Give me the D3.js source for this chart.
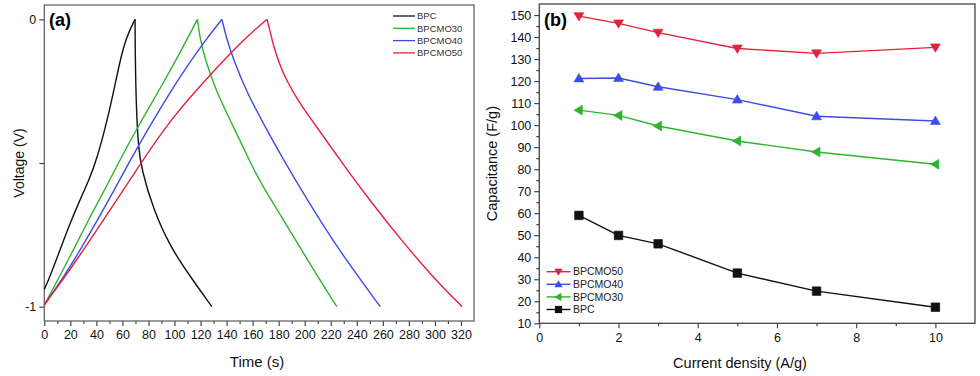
<!DOCTYPE html>
<html>
<head>
<meta charset="utf-8">
<script src="https://cdn.jsdelivr.net/npm/d3@7"></script>
<style>
  body { margin: 0; background: #fff; }
  svg { display: block; font-family: "Liberation Sans", Arial, sans-serif; }
</style>
</head>
<body>
<svg id="chart"></svg>
<script>
// ---- panel (a): galvanostatic charge / discharge, [time s, voltage V]
const bpcCharge = [[0, -0.94], [4.4, -0.895], [12.1, -0.802], [19.9, -0.709], [27.4, -0.628], [33.8, -0.565], [40.3, -0.49], [50.5, -0.314], [58.2, -0.14], [63.3, -0.058], [69.7, 0]];
const bpcDischarge = [[69.7, 0], [69.8, -0.1], [70.2, -0.22], [70.9, -0.33], [72.2, -0.44], [74.5, -0.52], [83.8, -0.663], [96.6, -0.791], [112, -0.895], [128.7, -1]];
const mo30Charge = [[0, -0.994], [17.2, -0.849], [32.6, -0.709], [50.5, -0.558], [58.2, -0.488], [73.6, -0.36], [91.5, -0.221], [104.3, -0.116], [117.6, 0]];
const mo30Discharge = [[117.6, 0], [119.7, -0.07], [123.5, -0.14], [132.5, -0.256], [142.7, -0.349], [159.4, -0.51], [165.8, -0.565], [181.2, -0.68], [191.4, -0.756], [211.9, -0.91], [224.7, -1]];
const mo40Charge = [[0, -0.994], [22.3, -0.849], [58.2, -0.558], [63.3, -0.512], [83.8, -0.349], [104.3, -0.198], [122.2, -0.081], [136.4, 0]];
const mo40Discharge = [[136.4, 0], [140.2, -0.07], [145.3, -0.14], [155.6, -0.256], [170.9, -0.384], [181.2, -0.47], [204.2, -0.645], [211.9, -0.7], [229.8, -0.826], [258, -1]];
const mo50Charge = [[0, -0.994], [23.6, -0.849], [65.9, -0.558], [71, -0.523], [96.6, -0.349], [127.4, -0.192], [153, -0.07], [171, 0]];
const mo50Discharge = [[171, 0], [173.5, -0.042], [176, -0.093], [181.2, -0.163], [186.3, -0.215], [194, -0.275], [201.7, -0.328], [217.1, -0.425], [232.4, -0.523], [250.3, -0.632], [276, -0.779], [299, -0.9], [320.8, -1]];

const curveNames = ["BPC", "BPCMO30", "BPCMO40", "BPCMO50"];
const curveColors = ["#111111", "#2cb52c", "#3a4ee6", "#e3213c"];
const curveSegments = [
  [bpcCharge, bpcDischarge],
  [mo30Charge, mo30Discharge],
  [mo40Charge, mo40Discharge],
  [mo50Charge, mo50Discharge]
];

// ---- panel (b): capacitance vs current density
const currentDensity = [1, 2, 3, 5, 7, 10];
const capBPC = [59.0, 49.9, 46.1, 32.8, 24.6, 17.3];
const capMO30 = [106.8, 104.4, 99.6, 92.8, 87.8, 82.2];
const capMO40 = [121.2, 121.4, 117.4, 111.6, 104.0, 101.9];
const capMO50 = [149.5, 146.2, 142.0, 134.8, 132.6, 135.3];

const capSeries = [
  { name: "BPCMO50", values: capMO50, color: "#e3213c", symbol: "triDown" },
  { name: "BPCMO40", values: capMO40, color: "#3a4ee6", symbol: "triUp" },
  { name: "BPCMO30", values: capMO30, color: "#2cb52c", symbol: "triLeft" },
  { name: "BPC", values: capBPC, color: "#111111", symbol: "square" }
];

const svg = d3.select("#chart").attr("width", 980).attr("height", 376);
const axisColor = "#444";

const styleAxis = (g) => {
  g.select(".domain").remove();
  g.selectAll("line").attr("stroke", axisColor).attr("stroke-width", 1.2);
  g.selectAll("text").attr("fill", "#111").attr("font-size", 12.5);
};

// ================= panel (a) =================
const xA = d3.scaleLinear().domain([0, 330]).range([44.3, 474]);
const yA = d3.scaleLinear().domain([-1.05, 0.05]).range([321, 5]);

const gA = svg.append("g");

gA.append("g")
  .attr("transform", `translate(0, ${yA(-1.05)})`)
  .call(d3.axisBottom(xA).tickValues(d3.range(10, 330, 20)).tickSize(3).tickFormat(""))
  .call(styleAxis);
gA.append("g")
  .attr("transform", `translate(0, ${yA(-1.05)})`)
  .call(d3.axisBottom(xA).tickValues(d3.range(0, 321, 20)).tickSize(5).tickPadding(4))
  .call(styleAxis);
gA.append("g")
  .attr("transform", `translate(${xA(0)}, 0)`)
  .call(d3.axisLeft(yA).tickValues([0, -0.5, -1]).tickSize(5).tickPadding(3)
    .tickFormat(d => d === 0 ? "0" : d === -1 ? "-1" : ""))
  .call(styleAxis);

gA.append("rect")
  .attr("x", xA(0)).attr("y", yA(0.05))
  .attr("width", xA(330) - xA(0)).attr("height", yA(-1.05) - yA(0.05))
  .attr("fill", "none").attr("stroke", "#666").attr("stroke-width", 1.3);

// smooth through the traced points, charge and discharge drawn apart to keep the sharp peaks
const lineA = d3.line().x(d => xA(d[0])).y(d => yA(d[1])).curve(d3.curveBasis);

curveSegments.forEach((segs, i) => {
  segs.forEach(seg => {
    gA.append("path")
      .attr("d", lineA(seg))
      .attr("fill", "none")
      .attr("stroke", curveColors[i])
      .attr("stroke-width", 1.4);
  });
});

// legend (a)
curveNames.forEach((name, i) => {
  const ly = 16 + i * 12.3;
  gA.append("line")
    .attr("x1", 393).attr("x2", 415).attr("y1", ly).attr("y2", ly)
    .attr("stroke", curveColors[i]).attr("stroke-width", 1.3);
  gA.append("text")
    .attr("x", 417).attr("y", ly).attr("dy", "0.35em")
    .attr("font-size", 9.5).attr("fill", "#333")
    .text(name);
});

gA.append("text")
  .attr("x", 49).attr("y", 26)
  .attr("font-size", 18).attr("font-weight", "bold")
  .text("(a)");

gA.append("text")
  .attr("transform", `translate(19, ${yA(-0.5)}) rotate(-90)`)
  .attr("text-anchor", "middle").attr("dy", "0.35em")
  .attr("font-size", 14).attr("fill", "#111")
  .text("Voltage (V)");

gA.append("text")
  .attr("x", 257).attr("y", 362)
  .attr("text-anchor", "middle").attr("dy", "0.35em")
  .attr("font-size", 15).attr("fill", "#111")
  .text("Time (s)");

// ================= panel (b) =================
const xB = d3.scaleLinear().domain([0, 11]).range([539.3, 975]);
const yB = d3.scaleLinear().domain([10, 155]).range([323.3, 4]);

const gB = svg.append("g");

gB.append("g")
  .attr("transform", `translate(0, ${yB(10)})`)
  .call(d3.axisBottom(xB).tickValues([1, 3, 5, 7, 9]).tickSize(3).tickFormat(""))
  .call(styleAxis);
gB.append("g")
  .attr("transform", `translate(0, ${yB(10)})`)
  .call(d3.axisBottom(xB).tickValues([0, 2, 4, 6, 8, 10]).tickSize(5).tickPadding(5))
  .call(styleAxis);
gB.append("g")
  .attr("transform", `translate(${xB(0)}, 0)`)
  .call(d3.axisLeft(yB).tickValues(d3.range(15, 155, 10)).tickSize(3).tickFormat(""))
  .call(styleAxis);
gB.append("g")
  .attr("transform", `translate(${xB(0)}, 0)`)
  .call(d3.axisLeft(yB).tickValues(d3.range(10, 151, 10)).tickSize(5).tickPadding(3))
  .call(styleAxis);

gB.append("rect")
  .attr("x", xB(0)).attr("y", yB(155))
  .attr("width", xB(11) - xB(0)).attr("height", yB(10) - yB(155))
  .attr("fill", "none").attr("stroke", "#444").attr("stroke-width", 1.3);

const symbolPath = (type, cx, cy, r) => {
  if (type === "square") {
    return `M${cx - r},${cy - r}H${cx + r}V${cy + r}H${cx - r}Z`;
  }
  const h = r * 1.15;
  if (type === "triUp") return `M${cx},${cy - h}L${cx + h},${cy + h * 0.7}L${cx - h},${cy + h * 0.7}Z`;
  if (type === "triDown") return `M${cx},${cy + h}L${cx + h},${cy - h * 0.7}L${cx - h},${cy - h * 0.7}Z`;
  return `M${cx - h},${cy}L${cx + h * 0.7},${cy - h}L${cx + h * 0.7},${cy + h}Z`;
};

const lineB = d3.line().x(d => xB(d[0])).y(d => yB(d[1]));

capSeries.forEach(s => {
  const pts = currentDensity.map((c, i) => [c, s.values[i]]);
  gB.append("path")
    .attr("d", lineB(pts))
    .attr("fill", "none").attr("stroke", s.color).attr("stroke-width", 1.4);
  gB.selectAll(null)
    .data(pts)
    .join("path")
    .attr("d", d => symbolPath(s.symbol, xB(d[0]), yB(d[1]), 4.3))
    .attr("fill", s.color).attr("stroke", s.color).attr("stroke-width", 0.6);
});

// legend (b)
capSeries.forEach((s, i) => {
  const ly = 271.7 + i * 12.6;
  gB.append("line")
    .attr("x1", 546.5).attr("x2", 570.5).attr("y1", ly).attr("y2", ly)
    .attr("stroke", s.color).attr("stroke-width", 1.4);
  gB.append("path")
    .attr("d", symbolPath(s.symbol, 558.5, ly, 3.6))
    .attr("fill", s.color);
  gB.append("text")
    .attr("x", 573).attr("y", ly).attr("dy", "0.35em")
    .attr("font-size", 10.5).attr("fill", "#222")
    .text(s.name);
});

gB.append("text")
  .attr("x", 544).attr("y", 26)
  .attr("font-size", 18).attr("font-weight", "bold")
  .text("(b)");

gB.append("text")
  .attr("transform", `translate(492, ${yB(82.5)}) rotate(-90)`)
  .attr("text-anchor", "middle").attr("dy", "0.35em")
  .attr("font-size", 14.5).attr("fill", "#111")
  .text("Capacitance (F/g)");

gB.append("text")
  .attr("x", 740).attr("y", 363)
  .attr("text-anchor", "middle").attr("dy", "0.35em")
  .attr("font-size", 14.5).attr("fill", "#111")
  .text("Current density (A/g)");
</script>
</body>
</html>
